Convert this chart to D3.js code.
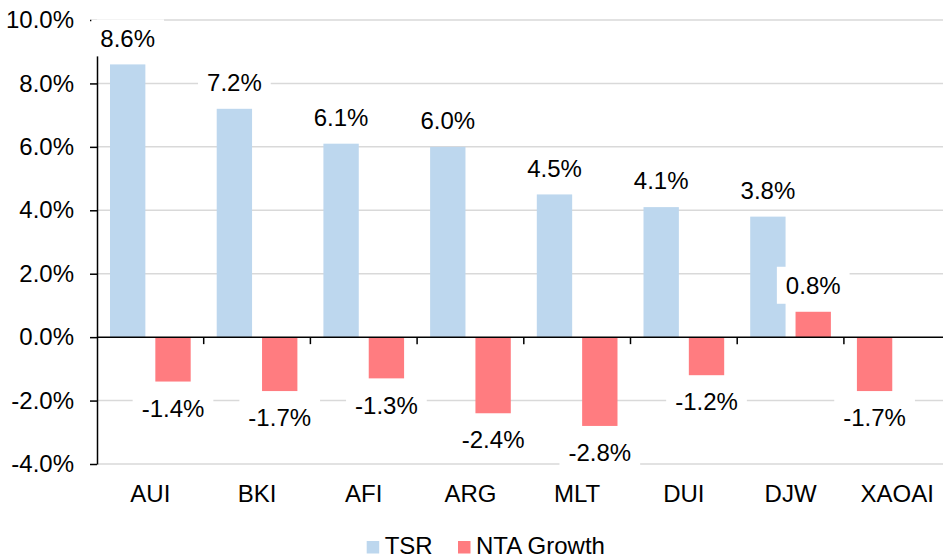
<!DOCTYPE html>
<html lang="en">
<head>
<meta charset="UTF-8">
<title>TSR vs NTA Growth</title>
<script src="https://cdn.jsdelivr.net/npm/d3@7"></script>
<style>
    body { margin: 0; background: #fff; }
    svg { display: block; font-family: "Liberation Sans", Arial, sans-serif; }
    .grid line { stroke: #d9d9d9; stroke-width: 1.5; }
    .axis path, .axis line { stroke: #000; stroke-width: 1.5; }
</style>
</head>
<body>
<svg width="943" height="558"></svg>
<script>
    // chart data
    const categories = ["AUI", "BKI", "AFI", "ARG", "MLT", "DUI", "DJW", "XAOAI"];
    const seriesNames = ["TSR", "NTA Growth"];
    // the index (XAOAI) has only a total return, shown in the NTA colour
    const tsr = [8.6, 7.2, 6.1, 6.0, 4.5, 4.1, 3.8, -1.7];
    const ntaGrowth = [-1.4, -1.7, -1.3, -2.4, -2.8, -1.2, 0.8, null];
    const yTicks = [-4, -2, 0, 2, 4, 6, 8, 10];
    const colors = ["#bdd7ee", "#ff7c80"];
    const indexCategory = "XAOAI";

    const rows = categories.map((c, i) => ({ cat: c, values: [tsr[i], ntaGrowth[i]] }));

    const svg = d3.select("svg");
    const fontSize = 24;
    const left = 97, step = 106.7;

    const x0 = d3.scaleBand()
        .domain(categories)
        .range([left, left + step * categories.length])
        .padding(0);

    const x1 = d3.scaleBand()
        .domain(seriesNames)
        .range([0, x0.bandwidth()])
        .paddingInner(0.22)
        .paddingOuter(0.287);

    const y = d3.scaleLinear().domain([-4, 10]).range([464, 20]);

    // gridlines
    svg.append("g").attr("class", "grid")
        .selectAll("line")
        .data(yTicks.filter(t => t !== 0))
        .join("line")
        .attr("x1", left).attr("x2", 943)
        .attr("y1", d => y(d)).attr("y2", d => y(d));

    // bars
    const bars = [];
    rows.forEach(r => {
        r.values.forEach((v, j) => {
            if (v == null) return;
            const color = r.cat === indexCategory ? colors[1] : colors[j];
            bars.push({ cat: r.cat, series: seriesNames[j], value: v, color });
        });
    });

    svg.append("g")
        .selectAll("rect")
        .data(bars)
        .join("rect")
        .attr("x", d => x0(d.cat) + x1(d.series))
        .attr("width", x1.bandwidth())
        .attr("y", d => y(Math.max(0, d.value)))
        .attr("height", d => Math.abs(y(d.value) - y(0)))
        .attr("fill", d => d.color);

    // y axis
    svg.append("g").attr("class", "axis")
        .attr("transform", `translate(${left},0)`)
        .call(d3.axisLeft(y).tickValues(yTicks).tickSize(7).tickSizeOuter(0)
            .tickFormat(d => d.toFixed(1) + "%"))
        .call(g => g.selectAll("text")
            .attr("x", -23)
            .attr("font-size", fontSize)
            .attr("font-family", "Liberation Sans, Arial, sans-serif")
            .attr("fill", "#000"));

    // zero line with category ticks
    svg.append("g").attr("class", "axis")
        .attr("transform", `translate(0,${y(0)})`)
        .call(d3.axisBottom(x0).tickSize(0).tickFormat(""))
        .call(g => g.select(".domain").attr("d", `M${left},0H943`))
        .call(g => g.selectAll(".tick").remove());

    svg.append("g").attr("class", "axis")
        .selectAll("line")
        .data(categories.slice(1))
        .join("line")
        .attr("x1", d => x0(d)).attr("x2", d => x0(d))
        .attr("y1", y(0)).attr("y2", y(0) + 7);

    // category labels
    svg.append("g")
        .selectAll("text")
        .data(categories)
        .join("text")
        .attr("x", d => x0(d) + x0.bandwidth() / 2)
        .attr("y", 502)
        .attr("text-anchor", "middle")
        .attr("font-size", fontSize)
        .text(d => d);

    // data labels with white boxes
    const boxH = 37, gap = 8, padX = 9;
    const lbl = svg.append("g")
        .selectAll("g")
        .data(bars)
        .join("g")
        .attr("transform", d => {
            const cx = x0(d.cat) + x1(d.series) + x1.bandwidth() / 2;
            const cy = d.value >= 0 ? y(d.value) - gap - boxH / 2 : y(d.value) + gap + boxH / 2;
            return `translate(${cx},${cy})`;
        });

    lbl.append("rect").attr("fill", "#fff");
    lbl.append("text")
        .attr("text-anchor", "middle")
        .attr("y", fontSize * 0.36)
        .attr("font-size", fontSize)
        .text(d => d.value.toFixed(1) + "%");
    lbl.each(function () {
        const w = d3.select(this).select("text").node().getComputedTextLength() + padX * 2;
        d3.select(this).select("rect")
            .attr("x", -w / 2).attr("y", -boxH / 2)
            .attr("width", w).attr("height", boxH);
    });

    // legend
    const legendX = [366.7, 458];
    const legend = svg.append("g")
        .selectAll("g")
        .data(seriesNames)
        .join("g")
        .attr("transform", (d, i) => `translate(${legendX[i]},541)`);
    legend.append("rect")
        .attr("width", 12.5).attr("height", 12.5)
        .attr("fill", (d, i) => colors[i]);
    legend.append("text")
        .attr("x", 18).attr("y", 13)
        .attr("font-size", fontSize)
        .text(d => d);
</script>
</body>
</html>
